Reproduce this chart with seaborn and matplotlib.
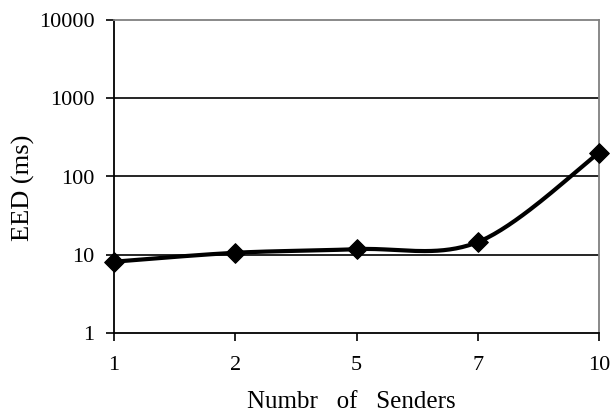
import numpy as np
import pandas as pd
import matplotlib
matplotlib.use("Agg")
import matplotlib.pyplot as plt
import seaborn as sns

# Data
senders = ["1", "2", "5", "7", "10"]
eed_ms = [8.15, 10.6, 11.8, 14.5, 201]

sns.set_theme(style="white")
plt.rcParams["font.family"] = ["Liberation Serif", "DejaVu Serif"]

fig = plt.figure(figsize=(6.13, 4.15), dpi=100)
ax = fig.add_axes([114 / 613, 1 - 333 / 415, (599 - 114) / 613, (333 - 20) / 415])

df = pd.DataFrame({"pos": np.arange(len(senders)), "eed": eed_ms})

# Smoothed connecting curve (Catmull-Rom in log space, like a spreadsheet "smooth line")
ly = np.log10(df["eed"].to_numpy())
px = df["pos"].to_numpy().astype(float)
cx, cy = [], []
n = len(px)
for i in range(n - 1):
    t = np.linspace(0, 1, 40)
    p1 = np.array([px[i], ly[i]])
    p2 = np.array([px[i + 1], ly[i + 1]])
    p0 = np.array([px[i - 1], ly[i - 1]]) if i > 0 else p1
    p3 = np.array([px[i + 2], ly[i + 2]]) if i + 2 < n else p2
    m1 = (p2 - p0) / 2
    m2 = (p3 - p1) / 2
    h00 = 2 * t**3 - 3 * t**2 + 1
    h10 = t**3 - 2 * t**2 + t
    h01 = -2 * t**3 + 3 * t**2
    h11 = t**3 - t**2
    seg = np.outer(h00, p1) + np.outer(h10, m1) + np.outer(h01, p2) + np.outer(h11, m2)
    cx.extend(seg[:, 0])
    cy.extend(seg[:, 1])
curve = pd.DataFrame({"x": cx, "y": 10 ** np.array(cy)})

sns.lineplot(data=curve, x="x", y="y", ax=ax, color="black", linewidth=3.0,
             sort=False, estimator=None, zorder=3)
sns.scatterplot(data=df, x="pos", y="eed", ax=ax, marker="D", s=100,
                color="black", edgecolor="black", zorder=4, clip_on=False)

ax.set_yscale("log")
ax.set_ylim(1, 10000)
ax.set_xlim(0, len(senders) - 1)
ax.set_yticks([1, 10, 100, 1000, 10000])
ax.set_yticklabels(["1", "10", "100", "1000", "10000"])
ax.minorticks_off()
ax.set_xticks(df["pos"])
ax.set_xticklabels(senders)

for v in [10, 100, 1000]:
    ax.axhline(v, color="black", linewidth=1.2, zorder=1)

for side in ["left", "bottom"]:
    ax.spines[side].set_color("black")
    ax.spines[side].set_linewidth(1.3)
for side in ["top", "right"]:
    ax.spines[side].set_color("#808080")
    ax.spines[side].set_linewidth(1.3)

ax.tick_params(axis="both", which="major", direction="out", length=6, width=1.2,
               color="black", labelsize=16, labelcolor="black")
ax.tick_params(axis="y", pad=8)
ax.tick_params(axis="x", pad=10.5)
ax.yaxis.set_ticks_position("left")
ax.xaxis.set_ticks_position("bottom")

ax.set_xlabel("Numbr   of   Senders", fontsize=18, color="black")
ax.set_ylabel("EED (ms)", fontsize=19, color="black")
ax.xaxis.set_label_coords(0.5 - 5 / 485, -(391 - 333) / 313)
ax.yaxis.set_label_coords((35 - 114) / 485, 1 - (188 - 20) / 313)

fig.savefig("out.png", dpi=100)
